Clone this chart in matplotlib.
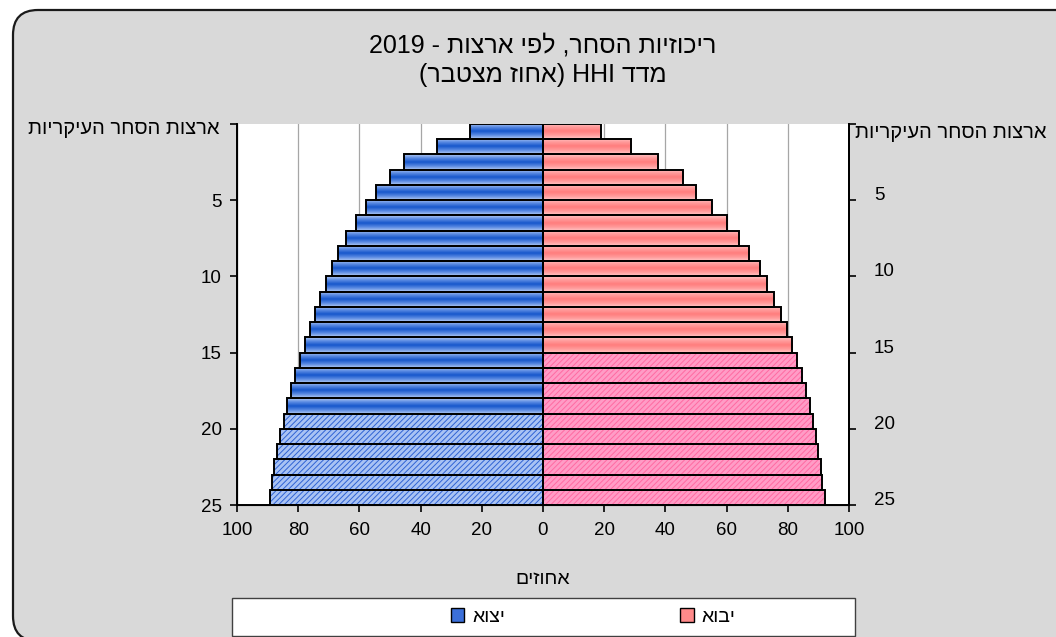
import re
import numpy as np
import matplotlib
matplotlib.use('Agg')
import matplotlib.pyplot as plt
import matplotlib.transforms as mtransforms
from matplotlib.patches import FancyBboxPatch, Rectangle, Patch
from matplotlib.colors import LinearSegmentedColormap

plt.rcParams['font.family'] = ['Liberation Sans', 'DejaVu Sans']
plt.rcParams['hatch.linewidth'] = 0.7

# data (cumulative share, %)
rank = np.arange(1, 26)
export_pct = [24.0, 34.8, 45.5, 50.1, 54.7, 58.0, 61.2, 64.5, 67.1, 69.1,
              71.0, 73.0, 74.6, 76.2, 77.9, 79.5, 81.1, 82.4, 83.5, 84.6,
              85.8, 86.8, 87.8, 88.6, 89.3]
import_pct = [18.8, 28.9, 37.6, 45.8, 50.1, 55.1, 60.0, 64.0, 67.3, 70.8,
              73.1, 75.6, 77.9, 79.9, 81.4, 83.0, 84.6, 86.1, 87.1, 88.2,
              89.3, 90.0, 90.8, 91.3, 92.1]
# from this rank on the bars are drawn hatched
export_hatch_from = 20
import_hatch_from = 16

xticks = [-100, -80, -60, -40, -20, 0, 20, 40, 60, 80, 100]
yticks = [0, 5, 10, 15, 20, 25]

title_lines = ['ריכוזיות הסחר, לפי ארצות - 2019', 'מדד HHI (אחוז מצטבר)']
ylabel_txt = 'ארצות הסחר העיקריות'
xlabel_txt = 'אחוזים'
legend_labels = ['יצוא', 'יבוא']


def heb(s):
    '''
    turn a logical-order hebrew string into visual order for matplotlib
    (keeps latin / digit runs as they are, mirrors brackets)
    '''
    parts = re.findall(r'[A-Za-z0-9.]+|.', s)
    out = []
    for p in reversed(parts):
        if p == '(':
            p = ')'
        elif p == ')':
            p = '('
        out.append(p)
    return ''.join(out)


W, H = 1056, 637
fig = plt.figure(figsize=(W / 100, H / 100), dpi=100)
fig.patch.set_facecolor('white')

# rounded grey chart area
frame = FancyBboxPatch((0.13, -0.04), 10.8, 6.31,
                       boxstyle='round,pad=0,rounding_size=0.25',
                       transform=fig.dpi_scale_trans, facecolor='#d9d9d9',
                       edgecolor='#1a1a1a', lw=1.6, zorder=0)
fig.add_artist(frame)

ax = fig.add_axes([237 / W, 1 - 505 / H, (849 - 237) / W, (505 - 124) / H])
ax.set_facecolor('white')

blue_cmap = LinearSegmentedColormap.from_list('b', ['#1858cc', '#5a8ae2', '#b5cbf2'])
pink_cmap = LinearSegmentedColormap.from_list('p', ['#ff7e7e', '#ff9a9a', '#ffc6c6'])
grad = np.abs(np.linspace(-1, 1, 64)).reshape(-1, 1)

series = [(export_pct, -1, export_hatch_from, blue_cmap, '#a9c3f4', '#2f63d4'),
          (import_pct, 1, import_hatch_from, pink_cmap, '#ff9cc6', '#ff6aa2')]

for vals, sign, hatch_from, cmap, hface, hcol in series:
    v = sign * np.array(vals)
    hatched = rank >= hatch_from
    # hatched fill
    ax.barh(rank[hatched] - 0.5, v[hatched], height=1.0, facecolor=hface,
            edgecolor=hcol, hatch='//////', lw=0, zorder=2)
    # outlines
    bars = ax.barh(rank - 0.5, v, height=1.0, facecolor='none',
                   edgecolor='black', lw=1.4, zorder=3)
    # gradient fill for the rest
    for bar, r in zip(bars, rank):
        if r >= hatch_from:
            continue
        x0, y0 = bar.get_x(), bar.get_y()
        w, h = bar.get_width(), bar.get_height()
        im = ax.imshow(grad, cmap=cmap, aspect='auto', interpolation='bilinear',
                       extent=[x0, x0 + w, y0 + h, y0], zorder=2)
        im.set_clip_path(bar)

ax.set_xlim(-100, 100)
ax.set_ylim(25, 0)
ax.set_axisbelow(True)
ax.xaxis.grid(True, color='#a6a6a6', lw=0.9)
ax.set_xticks(xticks)
ax.set_xticklabels([str(abs(t)) for t in xticks])
ax.set_yticks(yticks)
ax.set_yticklabels(['' if t == 0 else str(t) for t in yticks])
ax.tick_params(axis='x', direction='out', length=5, width=1.2, pad=7, labelsize=13.5)
ax.tick_params(axis='y', direction='out', length=5, width=1.2, pad=6, labelsize=13.5)
ax.spines['top'].set_visible(False)
for s in ['left', 'bottom', 'right']:
    ax.spines[s].set_linewidth(1.4)

ax2 = ax.twinx()
ax2.set_ylim(25, 0)
ax2.set_yticks(yticks)
ax2.set_yticklabels(['' if t == 0 else str(t) for t in yticks])
ax2.tick_params(axis='y', direction='out', length=5, width=1.2, pad=13, labelsize=13.5)
ax2.spines['top'].set_visible(False)
ax2.spines['right'].set_linewidth(1.4)
up = mtransforms.ScaledTranslation(0, 0.065, fig.dpi_scale_trans)
for lbl in ax2.get_yticklabels():
    lbl.set_transform(lbl.get_transform() + up)

# texts
fig.text(543 / W, 1 - 45 / H, heb(title_lines[0]), ha='center', va='center', size=18)
fig.text(543 / W, 1 - 75 / H, heb(title_lines[1]), ha='center', va='center', size=18)
fig.text(220 / W, 1 - 128 / H, heb(ylabel_txt), ha='right', va='center', size=14.5)
fig.text(855 / W, 1 - 133 / H, heb(ylabel_txt), ha='left', va='center', size=14.5)
fig.text(543 / W, 1 - 580 / H, heb(xlabel_txt), ha='center', va='center', size=14)

# legend
leg_box = Rectangle((232 / W, 1 - 636 / H), (855 - 232) / W, 38 / H,
                    transform=fig.transFigure, facecolor='white',
                    edgecolor='#404040', lw=1.0, zorder=1)
fig.add_artist(leg_box)
handles = [Patch(facecolor='#3b6fd9', edgecolor='black', lw=1.0),
           Patch(facecolor='#ff8a8a', edgecolor='black', lw=1.0)]
fig.legend(handles, [heb(l) for l in legend_labels], loc='center',
           bbox_to_anchor=(593 / W, 1 - 617 / H), ncol=2, frameon=False,
           fontsize=14, handlelength=0.7, handleheight=0.7, handletextpad=0.4,
           columnspacing=9.0)

fig.savefig('out.png', dpi=100, facecolor='white')
